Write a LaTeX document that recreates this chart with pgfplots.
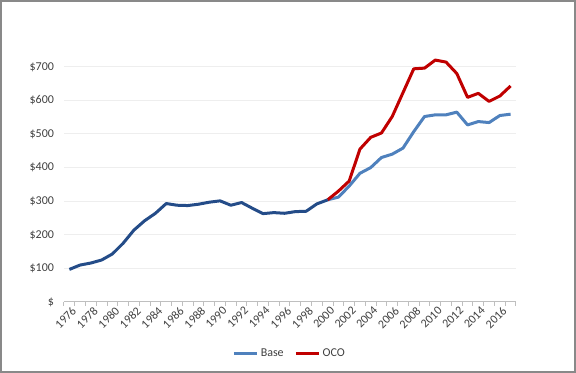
\documentclass[border=0pt]{standalone}
\usepackage{pgfplots}
\pgfplotsset{compat=1.18}
\usepackage{fontspec}
\setmainfont{Carlito}
\definecolor{baseblue}{RGB}{79,129,189}
\definecolor{ocored}{RGB}{192,0,0}
\definecolor{darkblue}{RGB}{36,76,136}
\definecolor{gridgray}{RGB}{238,238,238}
\definecolor{axgray}{RGB}{191,191,191}
\definecolor{txtgray}{RGB}{64,64,64}
\definecolor{framegray}{RGB}{137,137,137}
\begin{document}
\begin{tikzpicture}[x=0.75pt,y=0.75pt]
\useasboundingbox (-64,-71) rectangle (512,302);
\begin{axis}[
  at={(0,0)}, anchor=origin,
  scale only axis, width=339pt, height=201.6pt,
  xmin=1975.5, xmax=2017.5, ymin=0, ymax=800,
  axis x line*=bottom, axis y line*=left,
  separate axis lines,
  x axis line style={draw=axgray, line width=0.75pt},
  y axis line style={draw=none},
  ytick={0,100,...,700},
  yticklabels={\$,\$100,\$200,\$300,\$400,\$500,\$600,\$700},
  xtick={1976,1978,...,2016},
  xticklabels={1976,1978,1980,1982,1984,1986,1988,1990,1992,1994,1996,1998,2000,2002,2004,2006,2008,2010,2012,2014,2016},
  minor xtick={1975.5,1976.5,...,2017.5},
  major tick length=0pt,
  minor tick length=3pt,
  tick align=outside,
  minor tick style={draw=axgray, line width=0.75pt},
  ymajorgrids, major grid style={draw=gridgray, line width=0.75pt},
  tick label style={font=\fontsize{9}{11}\selectfont, text=txtgray},
  xticklabel style={rotate=45, anchor=north east, inner sep=1pt, yshift=-2pt},
  yticklabel style={xshift=-4pt},
  legend style={at={(0.5,-0.193)}, anchor=center, draw=none, fill=none,
    legend columns=2, font=\fontsize{9}{11}\selectfont, text=txtgray,
    /tikz/every even column/.append style={column sep=6pt}},
  legend image code/.code={\draw[#1, line width=2.25pt] (0pt,0pt) -- (17pt,0pt);},
  clip=false,
]
\addplot[baseblue, line width=2.25pt, line join=round] coordinates {
(2000,304) (2001,312) (2002,345) (2003,383) (2004,400) (2005,430) (2006,440) (2007,458)
(2008,507) (2009,552) (2010,557) (2011,557) (2012,565) (2013,527) (2014,537) (2015,534) (2016,555) (2017,559)};
\addlegendentry{Base}
\addplot[ocored, line width=2.25pt, line join=round] coordinates {
(2000,304) (2001,330) (2002,360) (2003,455) (2004,490) (2005,503) (2006,552) (2007,623)
(2008,694) (2009,696) (2010,720) (2011,714) (2012,680) (2013,609) (2014,621) (2015,597) (2016,613) (2017,643)};
\addlegendentry{OCO}
\addplot[darkblue, line width=2.25pt, line join=round, forget plot] coordinates {
(1976,97) (1977,110) (1978,116) (1979,125) (1980,143) (1981,175) (1982,214) (1983,242)
(1984,264) (1985,293) (1986,288) (1987,287) (1988,291) (1989,297) (1990,301) (1991,288)
(1992,296) (1993,279) (1994,263) (1995,266) (1996,264) (1997,269) (1998,270) (1999,292) (2000,304)};
\end{axis}
\draw[framegray, line width=1.5] (-63,-70) rectangle (511,301);
\end{tikzpicture}
\end{document}
